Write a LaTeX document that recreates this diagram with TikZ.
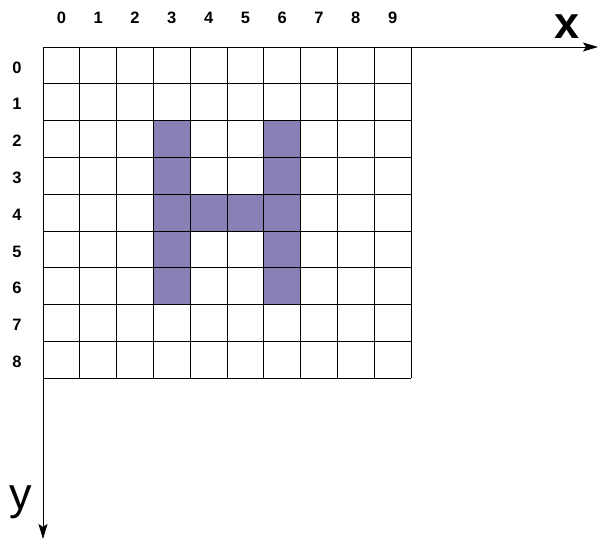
\documentclass[tikz,border=0pt]{standalone}
\usepackage{fontspec}
\setmainfont{Liberation Sans}
\usetikzlibrary{arrows.meta}
\definecolor{hpurple}{RGB}{139,128,181}
\tikzset{
  cellfill/.style={fill=hpurple,draw=none},
  gridline/.style={draw=black,line width=0.9pt},
  axisline/.style={draw=black,line width=1pt,-{Stealth[length=15pt,width=9pt,inset=3pt]}},
  numlabel/.style={font=\fontsize{16.5}{18}\selectfont\bfseries,inner sep=0pt},
  axislabel/.style={font=\fontsize{45}{50}\selectfont,inner sep=0pt,anchor=base}
}
\begin{document}
\begin{tikzpicture}[x=1pt,y=-1pt]
\useasboundingbox (0,0) rectangle (603,547);
\def\cw{36.8}
% purple cells
\foreach \c/\r in {3/2,3/3,3/4,3/5,3/6,6/2,6/3,6/4,6/5,6/6,4/4,5/4}{
  \fill[hpurple] ({43+\c*\cw},{47+\r*\cw}) rectangle ({43+(\c+1)*\cw},{47+(\r+1)*\cw});
}
% grid
\foreach \i in {0,...,10}{
  \draw[gridline] ({43+\i*\cw},47) -- ({43+\i*\cw},{47+9*\cw});
}
\foreach \j in {0,...,9}{
  \draw[gridline] (43,{47+\j*\cw}) -- ({43+10*\cw},{47+\j*\cw});
}
% axes
\coordinate (origin) at (43,47);
\coordinate (xend) at (598,47);
\coordinate (yend) at (43,539);
\draw[axisline] (origin) -- (xend);
\draw[axisline] (origin) -- (yend);
% labels
\foreach \i in {0,...,9}{
  \node[numlabel] (col\i) at ({43+(\i+0.5)*\cw},18) {\i};
}
\foreach \j in {0,...,8}{
  \node[numlabel] (row\j) at (17,{47+(\j+0.5)*\cw+2}) {\j};
}
\node[axislabel,font=\fontsize{45}{50}\selectfont\bfseries] (xlab) at (567,38) {x};
\node[axislabel] (ylab) at (21,509) {y};
\end{tikzpicture}
\end{document}
